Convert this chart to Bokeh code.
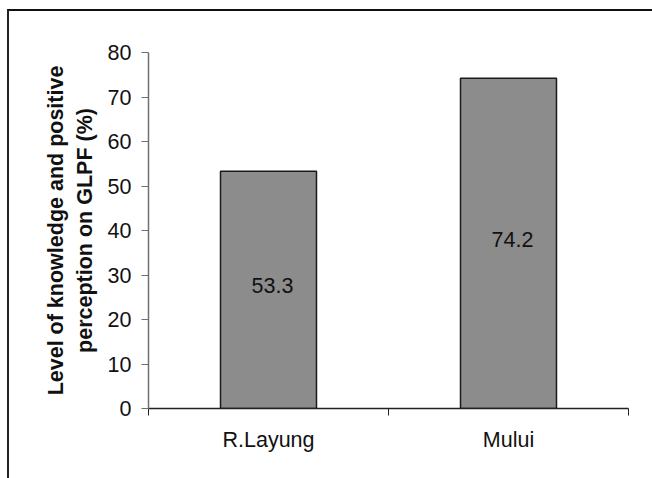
from bokeh.plotting import figure
from bokeh.models import Range1d, FixedTicker
from bokeh.core.properties import value
from bokeh.embed import file_html
from bokeh.resources import INLINE

# Survey results per site
sites = ["R.Layung", "Mului"]
percent = [53.3, 74.2]
y_ticks = [0, 10, 20, 30, 40, 50, 60, 70, 80]

centers = [i + 0.5 for i in range(len(sites))]
bounds = list(range(len(sites) + 1))

FONT = "Liberation Sans"
FS = "21.5px"

p = figure(output_backend="svg", toolbar_location=None,
           x_range=Range1d(0, len(sites)), y_range=Range1d(0, 80),
           frame_width=480, frame_height=356,
           min_border_left=139, min_border_right=24,
           min_border_top=41, min_border_bottom=70)
p.margin = (9, 0, 0, 7)
p.styles = {"border-left": "2px solid #222222", "border-top": "2px solid #111111"}
p.outline_line_color = None
p.grid.visible = False
p.background_fill_color = "white"
p.border_fill_color = "white"

p.vbar(x=centers, top=percent, width=0.4, bottom=0,
       fill_color="#8c8c8c", line_color="#1a1a1a", line_width=1.5)

p.text(x=centers, y=[v / 2 for v in percent], text=[f"{v:.1f}" for v in percent],
       text_align="center", text_baseline="middle", text_font_size=FS,
       text_font=value(FONT), text_color="#111111", x_offset=4, y_offset=-4)

# x axis: labels at category centres, ticks at category boundaries
xa = p.xaxis[0]
xa.ticker = FixedTicker(ticks=centers, minor_ticks=bounds)
xa.major_label_overrides = {c: s for c, s in zip(centers, sites)}
xa.major_tick_out = 0
xa.major_tick_in = 0
xa.minor_tick_out = 7
xa.minor_tick_in = 0
xa.minor_tick_line_color = "#222222"
xa.axis_line_color = "#222222"
xa.axis_line_width = 1.5
xa.major_label_text_font = FONT
xa.major_label_text_font_size = FS
xa.major_label_text_color = "#111111"
xa.major_label_standoff = 12

ya = p.yaxis[0]
ya.ticker = FixedTicker(ticks=y_ticks, minor_ticks=[])
ya.major_tick_out = 7
ya.major_tick_in = 0
ya.major_tick_line_color = "#707070"
ya.axis_line_color = "#707070"
ya.axis_line_width = 1.5
ya.major_label_text_font = FONT
ya.major_label_text_font_size = FS
ya.major_label_text_color = "#111111"
ya.major_label_standoff = 10
ya.axis_label = "Level of knowledge and positive\nperception on GLPF (%)"
ya.axis_label_text_font = FONT
ya.axis_label_text_font_style = "bold"
ya.axis_label_text_font_size = FS
ya.axis_label_text_color = "#111111"
ya.axis_label_standoff = 8

open("out.html", "w").write(file_html(p, INLINE))
